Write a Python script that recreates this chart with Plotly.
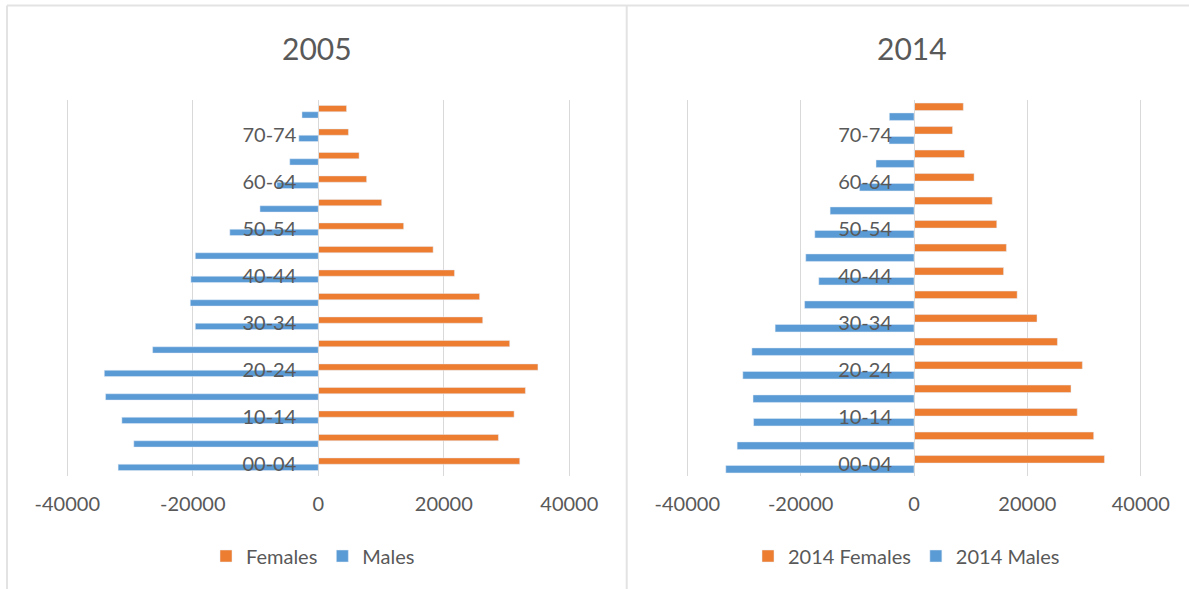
import plotly.graph_objects as go

# ---- data ----
age_groups = ["00-04", "05-09", "10-14", "15-19", "20-24", "25-29", "30-34", "35-39",
              "40-44", "45-49", "50-54", "55-59", "60-64", "65-69", "70-74", "75-79"]
tick_labels = ["00-04", "10-14", "20-24", "30-34", "40-44", "50-54", "60-64", "70-74"]

females_2005 = [32100, 28700, 31200, 33000, 35000, 30500, 26200, 25700,
                21700, 18300, 13600, 10100, 7700, 6500, 4800, 4500]
males_2005 = [-31900, -29400, -31300, -33900, -34100, -26400, -19600, -20400,
              -20300, -19600, -14100, -9300, -6600, -4550, -3100, -2600]
females_2014 = [33600, 31700, 28800, 27700, 29700, 25300, 21700, 18200,
                15800, 16300, 14600, 13800, 10600, 8900, 6800, 8700]
males_2014 = [-33200, -31200, -28300, -28400, -30200, -28600, -24500, -19300,
              -16800, -19100, -17500, -14800, -9600, -6700, -4400, -4350]

titles = ["2005", "2014"]
x_tick_values = [-40000, -20000, 0, 20000, 40000]
x_tick_text = ["-40000", "-20000", "0", "20000", "40000"]

ORANGE = "#ED7D31"
BLUE = "#5B9BD5"
TEXT = "#595959"
GRID = "#D9D9D9"
BORDER = "#E3E3E3"
FONT = "Lato"

W, H = 1189, 589

def px_x(p):
    return p / W

def px_y(p):
    return 1 - p / H

fig = go.Figure()

# left panel
fig.add_trace(go.Bar(y=age_groups, x=females_2005, orientation="h", name="Females",
                     marker_color=ORANGE, width=0.27, offset=0.0,
                     xaxis="x", yaxis="y", legend="legend"))
fig.add_trace(go.Bar(y=age_groups, x=males_2005, orientation="h", name="Males",
                     marker_color=BLUE, width=0.27, offset=-0.27,
                     xaxis="x", yaxis="y", legend="legend"))
# right panel
fig.add_trace(go.Bar(y=age_groups, x=females_2014, orientation="h", name="2014 Females",
                     marker_color=ORANGE, width=0.32, offset=0.05,
                     xaxis="x2", yaxis="y2", legend="legend2"))
fig.add_trace(go.Bar(y=age_groups, x=males_2014, orientation="h", name="2014 Males",
                     marker_color=BLUE, width=0.32, offset=-0.37,
                     xaxis="x2", yaxis="y2", legend="legend2"))

# axis ranges slightly wider than +-40000 so the edge gridlines are drawn
XR = 41000
left_dom = [px_x(61.0), px_x(575.6)]
right_dom = [px_x(681.6), px_x(1146.4)]
y_dom = [px_y(476), px_y(100)]

xcommon = dict(range=[-XR, XR], tickvals=x_tick_values, ticktext=x_tick_text,
               showgrid=True, gridcolor=GRID, gridwidth=1, zeroline=False, showline=False,
               ticks="", tickfont=dict(family=FONT, size=20, color=TEXT),
               ticklabelstandoff=14, automargin=False, fixedrange=True)
ycommon = dict(type="category", categoryorder="array", categoryarray=age_groups,
               range=[-0.5, 15.5], domain=y_dom, tickvals=tick_labels, ticktext=tick_labels,
               showgrid=False, zeroline=False, showline=True, linecolor=GRID, linewidth=1,
               ticks="", tickfont=dict(family=FONT, size=20, color=TEXT),
               ticklabelstandoff=18, anchor="free", layer="above traces",
               automargin=False, fixedrange=True)

fig.update_layout(
    width=W, height=H,
    margin=dict(l=0, r=0, t=0, b=0, autoexpand=False),
    paper_bgcolor="white", plot_bgcolor="white",
    barmode="overlay",
    font=dict(family=FONT, color=TEXT),
    xaxis=dict(domain=left_dom, anchor="y", **xcommon),
    xaxis2=dict(domain=right_dom, anchor="y2", **xcommon),
    yaxis=dict(position=px_x(318.3), **ycommon),
    yaxis2=dict(position=px_x(914.0), **ycommon),
    legend=dict(orientation="h", x=px_x(206), y=px_y(556), xanchor="left", yanchor="middle",
                font=dict(family=FONT, size=20, color=TEXT), bgcolor="rgba(0,0,0,0)",
                itemclick=False, itemdoubleclick=False),
    legend2=dict(orientation="h", x=px_x(748), y=px_y(556), xanchor="left", yanchor="middle",
                 font=dict(family=FONT, size=20, color=TEXT), bgcolor="rgba(0,0,0,0)",
                 itemclick=False, itemdoubleclick=False),
    annotations=[
        dict(text=titles[0], x=px_x(316.7), y=px_y(48), xref="paper", yref="paper",
             xanchor="center", yanchor="middle", showarrow=False,
             font=dict(family=FONT, size=30, color=TEXT)),
        dict(text=titles[1], x=px_x(912), y=px_y(48), xref="paper", yref="paper",
             xanchor="center", yanchor="middle", showarrow=False,
             font=dict(family=FONT, size=30, color=TEXT)),
    ],
    shapes=[
        dict(type="line", xref="paper", yref="paper", x0=px_x(7), x1=1, y0=px_y(5.5), y1=px_y(5.5),
             line=dict(color=BORDER, width=2)),
        dict(type="line", xref="paper", yref="paper", x0=px_x(7), x1=px_x(7), y0=px_y(5.5), y1=0,
             line=dict(color=BORDER, width=2)),
        dict(type="line", xref="paper", yref="paper", x0=px_x(626.7), x1=px_x(626.7), y0=px_y(5.5), y1=0,
             line=dict(color=BORDER, width=2)),
    ],
)

fig.write_html("out.html", config={"responsive": False, "displayModeBar": False},
               post_script="document.body.style.margin='0';document.body.style.overflow='hidden';")
